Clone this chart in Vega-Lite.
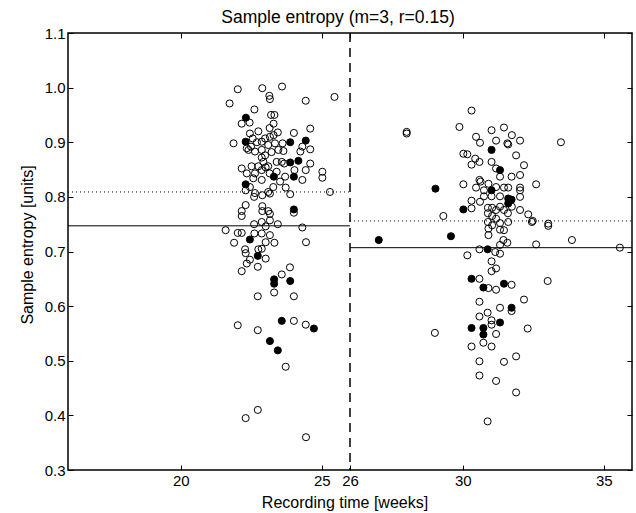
{
"$schema": "https://vega.github.io/schema/vega-lite/v6.json",
"width": 564, "height": 437,
"autosize": {"type": "none"},
"padding": {"left": 68, "top": 33, "right": 4, "bottom": 43},
"config": {
  "view": {"stroke": "black", "strokeWidth": 1.5},
  "font": "Liberation Sans",
  "axis": {"grid": false, "domain": false, "tickColor": "black", "tickSize": -5, "tickWidth": 1, "labelColor": "black", "labelFont": "Liberation Sans", "labelFontSize": 15, "titleFont": "Liberation Sans", "titleFontSize": 16, "titleFontWeight": "normal", "titleColor": "black"}
},
"title": {"text": "Sample entropy (m=3, r=0.15)", "fontSize": 17.5, "fontWeight": "normal", "font": "Liberation Sans", "color": "black", "offset": 0, "dx": -12},
"resolve": {"axis": {"x": "independent", "y": "independent"}},
"datasets": {
 "lines": [
  {"a": 16, "b": 26, "y": 0.747, "k": "mean"},
  {"a": 26, "b": 36, "y": 0.707, "k": "mean"},
  {"a": 16, "b": 26, "y": 0.809, "k": "other"},
  {"a": 26, "b": 36, "y": 0.756, "k": "other"}
 ],
 "pts": [
  {"w":22.02,"s":0.997,"g":"open"},{"w":22.89,"s":0.999,"g":"open"},{"w":23.59,"s":1.002,"g":"open"},{"w":23.14,"s":0.985,"g":"open"},{"w":23.16,"s":0.979,"g":"open"},{"w":21.73,"s":0.971,"g":"open"},{"w":24.43,"s":0.976,"g":"open"},{"w":25.45,"s":0.983,"g":"open"},{"w":22.61,"s":0.960,"g":"open"},{"w":23.20,"s":0.950,"g":"open"},{"w":23.32,"s":0.950,"g":"open"},{"w":22.16,"s":0.934,"g":"open"},{"w":22.44,"s":0.936,"g":"open"},{"w":23.29,"s":0.934,"g":"open"},{"w":23.15,"s":0.926,"g":"open"},{"w":24.59,"s":0.925,"g":"open"},{"w":22.75,"s":0.920,"g":"open"},{"w":24.01,"s":0.917,"g":"open"},{"w":23.44,"s":0.918,"g":"open"},{"w":21.87,"s":0.898,"g":"open"},{"w":22.45,"s":0.916,"g":"open"},{"w":22.55,"s":0.907,"g":"open"},{"w":22.70,"s":0.900,"g":"open"},{"w":22.34,"s":0.889,"g":"open"},{"w":22.49,"s":0.892,"g":"open"},{"w":22.87,"s":0.901,"g":"open"},{"w":22.99,"s":0.907,"g":"open"},{"w":23.16,"s":0.910,"g":"open"},{"w":23.29,"s":0.913,"g":"open"},{"w":23.61,"s":0.898,"g":"open"},{"w":23.34,"s":0.898,"g":"open"},{"w":23.10,"s":0.895,"g":"open"},{"w":22.87,"s":0.886,"g":"open"},{"w":22.63,"s":0.883,"g":"open"},{"w":22.40,"s":0.886,"g":"open"},{"w":22.99,"s":0.876,"g":"open"},{"w":23.22,"s":0.882,"g":"open"},{"w":23.46,"s":0.886,"g":"open"},{"w":23.64,"s":0.884,"g":"open"},{"w":24.31,"s":0.892,"g":"open"},{"w":24.59,"s":0.887,"g":"open"},{"w":24.24,"s":0.883,"g":"open"},{"w":22.87,"s":0.872,"g":"open"},{"w":22.93,"s":0.864,"g":"open"},{"w":22.51,"s":0.856,"g":"open"},{"w":22.75,"s":0.856,"g":"open"},{"w":23.10,"s":0.856,"g":"open"},{"w":23.40,"s":0.864,"g":"open"},{"w":23.58,"s":0.864,"g":"open"},{"w":22.16,"s":0.852,"g":"open"},{"w":22.34,"s":0.843,"g":"open"},{"w":22.63,"s":0.843,"g":"open"},{"w":22.87,"s":0.849,"g":"open"},{"w":23.01,"s":0.854,"g":"open"},{"w":23.15,"s":0.843,"g":"open"},{"w":23.40,"s":0.846,"g":"open"},{"w":23.67,"s":0.861,"g":"open"},{"w":24.03,"s":0.849,"g":"open"},{"w":24.43,"s":0.849,"g":"open"},{"w":24.59,"s":0.861,"g":"open"},{"w":25.02,"s":0.846,"g":"open"},{"w":25.02,"s":0.835,"g":"open"},{"w":24.31,"s":0.831,"g":"open"},{"w":23.70,"s":0.837,"g":"open"},{"w":23.52,"s":0.828,"g":"open"},{"w":23.28,"s":0.818,"g":"open"},{"w":23.10,"s":0.809,"g":"open"},{"w":22.87,"s":0.831,"g":"open"},{"w":22.57,"s":0.834,"g":"open"},{"w":22.45,"s":0.818,"g":"open"},{"w":22.63,"s":0.807,"g":"open"},{"w":22.60,"s":0.800,"g":"open"},{"w":22.89,"s":0.803,"g":"open"},{"w":23.16,"s":0.806,"g":"open"},{"w":23.72,"s":0.817,"g":"open"},{"w":23.88,"s":0.805,"g":"open"},{"w":25.29,"s":0.809,"g":"open"},{"w":22.30,"s":0.812,"g":"open"},{"w":22.16,"s":0.774,"g":"open"},{"w":22.30,"s":0.785,"g":"open"},{"w":22.89,"s":0.783,"g":"open"},{"w":22.89,"s":0.774,"g":"open"},{"w":23.10,"s":0.774,"g":"open"},{"w":23.16,"s":0.769,"g":"open"},{"w":24.01,"s":0.771,"g":"open"},{"w":22.16,"s":0.765,"g":"open"},
  {"w":22.60,"s":0.750,"g":"open"},{"w":22.87,"s":0.754,"g":"open"},{"w":23.01,"s":0.746,"g":"open"},{"w":23.16,"s":0.757,"g":"open"},{"w":23.44,"s":0.750,"g":"open"},{"w":24.31,"s":0.744,"g":"open"},{"w":21.59,"s":0.739,"g":"open"},{"w":22.02,"s":0.734,"g":"open"},{"w":22.16,"s":0.734,"g":"open"},{"w":21.89,"s":0.716,"g":"open"},{"w":22.61,"s":0.733,"g":"open"},{"w":22.87,"s":0.733,"g":"open"},{"w":23.16,"s":0.730,"g":"open"},{"w":23.01,"s":0.717,"g":"open"},{"w":23.32,"s":0.716,"g":"open"},{"w":24.44,"s":0.717,"g":"open"},{"w":22.28,"s":0.704,"g":"open"},{"w":22.30,"s":0.697,"g":"open"},{"w":22.75,"s":0.704,"g":"open"},{"w":22.87,"s":0.705,"g":"open"},{"w":22.45,"s":0.685,"g":"open"},{"w":22.34,"s":0.678,"g":"open"},{"w":22.16,"s":0.664,"g":"open"},{"w":22.73,"s":0.672,"g":"open"},{"w":23.01,"s":0.687,"g":"open"},{"w":23.87,"s":0.671,"g":"open"},{"w":23.58,"s":0.658,"g":"open"},{"w":22.73,"s":0.618,"g":"open"},{"w":23.31,"s":0.625,"g":"open"},{"w":24.01,"s":0.618,"g":"open"},{"w":22.02,"s":0.565,"g":"open"},{"w":22.73,"s":0.556,"g":"open"},{"w":24.01,"s":0.573,"g":"open"},{"w":24.43,"s":0.566,"g":"open"},{"w":23.72,"s":0.489,"g":"open"},{"w":22.73,"s":0.410,"g":"open"},{"w":22.30,"s":0.395,"g":"open"},{"w":24.44,"s":0.360,"g":"open"},
  {"w":22.31,"s":0.945,"g":"filled"},{"w":22.30,"s":0.901,"g":"filled"},{"w":23.88,"s":0.900,"g":"filled"},{"w":24.43,"s":0.903,"g":"filled"},{"w":23.88,"s":0.863,"g":"filled"},{"w":24.17,"s":0.866,"g":"filled"},{"w":23.30,"s":0.837,"g":"filled"},{"w":24.01,"s":0.837,"g":"filled"},{"w":22.30,"s":0.823,"g":"filled"},{"w":24.01,"s":0.777,"g":"filled"},{"w":22.45,"s":0.722,"g":"filled"},{"w":22.73,"s":0.692,"g":"filled"},{"w":23.31,"s":0.649,"g":"filled"},{"w":23.31,"s":0.641,"g":"filled"},{"w":23.88,"s":0.646,"g":"filled"},{"w":23.58,"s":0.573,"g":"filled"},{"w":24.72,"s":0.559,"g":"filled"},{"w":23.16,"s":0.536,"g":"filled"},{"w":23.44,"s":0.519,"g":"filled"},
  {"w":28.01,"s":0.919,"g":"open"},{"w":28.01,"s":0.916,"g":"open"},{"w":29.31,"s":0.765,"g":"open"},{"w":33.48,"s":0.900,"g":"open"},{"w":33.87,"s":0.721,"g":"open"},{"w":35.57,"s":0.707,"g":"open"},{"w":32.60,"s":0.823,"g":"open"},{"w":33.03,"s":0.751,"g":"open"},{"w":33.03,"s":0.747,"g":"open"},{"w":32.60,"s":0.713,"g":"open"},{"w":32.45,"s":0.754,"g":"open"},
  {"w":30.31,"s":0.958,"g":"open"},{"w":29.88,"s":0.928,"g":"open"},{"w":31.02,"s":0.922,"g":"open"},{"w":31.46,"s":0.927,"g":"open"},{"w":30.47,"s":0.910,"g":"open"},{"w":30.61,"s":0.899,"g":"open"},{"w":31.18,"s":0.903,"g":"open"},{"w":31.58,"s":0.898,"g":"open"},{"w":31.61,"s":0.896,"g":"open"},{"w":31.74,"s":0.913,"g":"open"},{"w":32.03,"s":0.903,"g":"open"},{"w":30.02,"s":0.879,"g":"open"},{"w":30.16,"s":0.878,"g":"open"},{"w":30.44,"s":0.870,"g":"open"},{"w":30.59,"s":0.864,"g":"open"},{"w":30.31,"s":0.859,"g":"open"},{"w":31.02,"s":0.864,"g":"open"},{"w":31.18,"s":0.852,"g":"open"},{"w":31.89,"s":0.876,"g":"open"},{"w":32.17,"s":0.858,"g":"open"},{"w":31.32,"s":0.837,"g":"open"},{"w":31.73,"s":0.837,"g":"open"},{"w":32.03,"s":0.840,"g":"open"},{"w":30.02,"s":0.823,"g":"open"},{"w":30.59,"s":0.831,"g":"open"},{"w":30.63,"s":0.828,"g":"open"},{"w":30.47,"s":0.817,"g":"open"},{"w":30.75,"s":0.812,"g":"open"},{"w":30.91,"s":0.824,"g":"open"},{"w":31.18,"s":0.818,"g":"open"},{"w":31.46,"s":0.817,"g":"open"},{"w":31.61,"s":0.817,"g":"open"},{"w":32.03,"s":0.817,"g":"open"},{"w":32.03,"s":0.812,"g":"open"},{"w":30.31,"s":0.793,"g":"open"},{"w":30.61,"s":0.791,"g":"open"},{"w":30.31,"s":0.779,"g":"open"},{"w":30.75,"s":0.801,"g":"open"},{"w":31.02,"s":0.801,"g":"open"},{"w":31.32,"s":0.801,"g":"open"},{"w":32.03,"s":0.800,"g":"open"},{"w":30.89,"s":0.780,"g":"open"},{"w":31.04,"s":0.780,"g":"open"},{"w":31.18,"s":0.776,"g":"open"},{"w":31.32,"s":0.782,"g":"open"},{"w":31.46,"s":0.776,"g":"open"},{"w":31.74,"s":0.782,"g":"open"},{"w":32.03,"s":0.776,"g":"open"},{"w":32.32,"s":0.768,"g":"open"},{"w":32.48,"s":0.756,"g":"open"},{"w":30.89,"s":0.770,"g":"open"},{"w":31.04,"s":0.765,"g":"open"},{"w":31.18,"s":0.760,"g":"open"},{"w":31.32,"s":0.752,"g":"open"},{"w":31.60,"s":0.770,"g":"open"},{"w":31.61,"s":0.754,"g":"open"},{"w":30.89,"s":0.754,"g":"open"},{"w":31.04,"s":0.748,"g":"open"},{"w":30.91,"s":0.742,"g":"open"},{"w":31.32,"s":0.740,"g":"open"},{"w":31.46,"s":0.739,"g":"open"},{"w":30.91,"s":0.730,"g":"open"},
  {"w":31.44,"s":0.721,"g":"open"},{"w":31.58,"s":0.716,"g":"open"},{"w":31.32,"s":0.712,"g":"open"},{"w":30.16,"s":0.693,"g":"open"},{"w":30.59,"s":0.704,"g":"open"},{"w":31.15,"s":0.699,"g":"open"},{"w":31.32,"s":0.696,"g":"open"},{"w":31.02,"s":0.682,"g":"open"},{"w":31.18,"s":0.669,"g":"open"},{"w":31.02,"s":0.664,"g":"open"},{"w":30.59,"s":0.650,"g":"open"},{"w":30.91,"s":0.633,"g":"open"},{"w":31.18,"s":0.630,"g":"open"},{"w":31.73,"s":0.639,"g":"open"},{"w":33.01,"s":0.646,"g":"open"},{"w":30.59,"s":0.608,"g":"open"},{"w":31.32,"s":0.597,"g":"open"},{"w":32.17,"s":0.612,"g":"open"},{"w":31.73,"s":0.591,"g":"open"},{"w":30.59,"s":0.581,"g":"open"},{"w":30.88,"s":0.588,"g":"open"},{"w":31.02,"s":0.574,"g":"open"},{"w":31.02,"s":0.566,"g":"open"},{"w":31.18,"s":0.549,"g":"open"},{"w":32.30,"s":0.559,"g":"open"},{"w":29.01,"s":0.551,"g":"open"},{"w":30.31,"s":0.526,"g":"open"},{"w":30.73,"s":0.533,"g":"open"},{"w":31.02,"s":0.526,"g":"open"},{"w":30.59,"s":0.499,"g":"open"},{"w":31.46,"s":0.498,"g":"open"},{"w":31.89,"s":0.508,"g":"open"},{"w":30.59,"s":0.473,"g":"open"},{"w":31.18,"s":0.463,"g":"open"},{"w":31.89,"s":0.442,"g":"open"},{"w":30.88,"s":0.389,"g":"open"},
  {"w":27.02,"s":0.721,"g":"filled"},{"w":29.03,"s":0.815,"g":"filled"},{"w":29.58,"s":0.728,"g":"filled"},{"w":30.02,"s":0.777,"g":"filled"},{"w":31.02,"s":0.886,"g":"filled"},{"w":31.32,"s":0.849,"g":"filled"},{"w":31.02,"s":0.812,"g":"filled"},{"w":31.61,"s":0.797,"g":"filled"},{"w":31.73,"s":0.795,"g":"filled"},{"w":31.61,"s":0.788,"g":"filled"},{"w":30.88,"s":0.704,"g":"filled"},{"w":30.31,"s":0.650,"g":"filled"},{"w":30.73,"s":0.634,"g":"filled"},{"w":31.46,"s":0.641,"g":"filled"},{"w":31.73,"s":0.597,"g":"filled"},{"w":31.32,"s":0.570,"g":"filled"},{"w":30.31,"s":0.560,"g":"filled"},{"w":30.73,"s":0.560,"g":"filled"},{"w":30.73,"s":0.548,"g":"filled"}
 ],
 "split": [{"w": 26}]
},
"layer": [
 {
  "data": {"name": "lines"},
  "mark": {"type": "rule", "color": "black", "strokeWidth": 1},
  "encoding": {
   "x": {"field": "a", "type": "quantitative", "scale": {"domain": [16, 36], "nice": false, "zero": false}, "axis": {"orient": "bottom", "values": [20, 25, 26, 30, 35], "title": "Recording time [weeks]", "labelPadding": 8, "titlePadding": 6, "titleX": 276.5}},
   "x2": {"field": "b"},
   "y": {"field": "y", "type": "quantitative", "scale": {"domain": [0.3, 1.1], "nice": false, "zero": false}, "axis": {"orient": "left", "values": [0.3, 0.4, 0.5, 0.6, 0.7, 0.8, 0.9, 1.0, 1.1], "format": ".1f", "title": "Sample entropy [units]", "labelPadding": 8, "titlePadding": 9, "titleY": 211.5}},
   "strokeDash": {"field": "k", "type": "nominal", "scale": {"domain": ["mean", "other"], "range": [[1, 0], [1, 3]]}, "legend": null}
  }
 },
 {
  "data": {"name": "split"},
  "mark": {"type": "rule", "color": "black", "strokeWidth": 1.5, "strokeDash": [9, 6]},
  "encoding": {
   "x": {"field": "w", "type": "quantitative", "axis": {"orient": "top", "values": [20, 25, 26, 30, 35], "labels": false, "title": null}}
  }
 },
 {
  "data": {"name": "pts"},
  "transform": [{"filter": "datum.g === 'open'"}],
  "mark": {"type": "point", "shape": "circle", "size": 50, "filled": false, "stroke": "black", "strokeWidth": 1, "opacity": 1},
  "encoding": {
   "x": {"field": "w", "type": "quantitative", "axis": null},
   "y": {"field": "s", "type": "quantitative", "axis": {"orient": "right", "values": [0.3, 0.4, 0.5, 0.6, 0.7, 0.8, 0.9, 1.0, 1.1], "labels": false, "title": null}}
  }
 },
 {
  "data": {"name": "pts"},
  "transform": [{"filter": "datum.g === 'filled'"}],
  "mark": {"type": "point", "shape": "circle", "size": 50, "filled": true, "fill": "black", "stroke": "black", "strokeWidth": 1, "opacity": 1},
  "encoding": {
   "x": {"field": "w", "type": "quantitative", "axis": null},
   "y": {"field": "s", "type": "quantitative", "axis": null}
  }
 }
]
}
